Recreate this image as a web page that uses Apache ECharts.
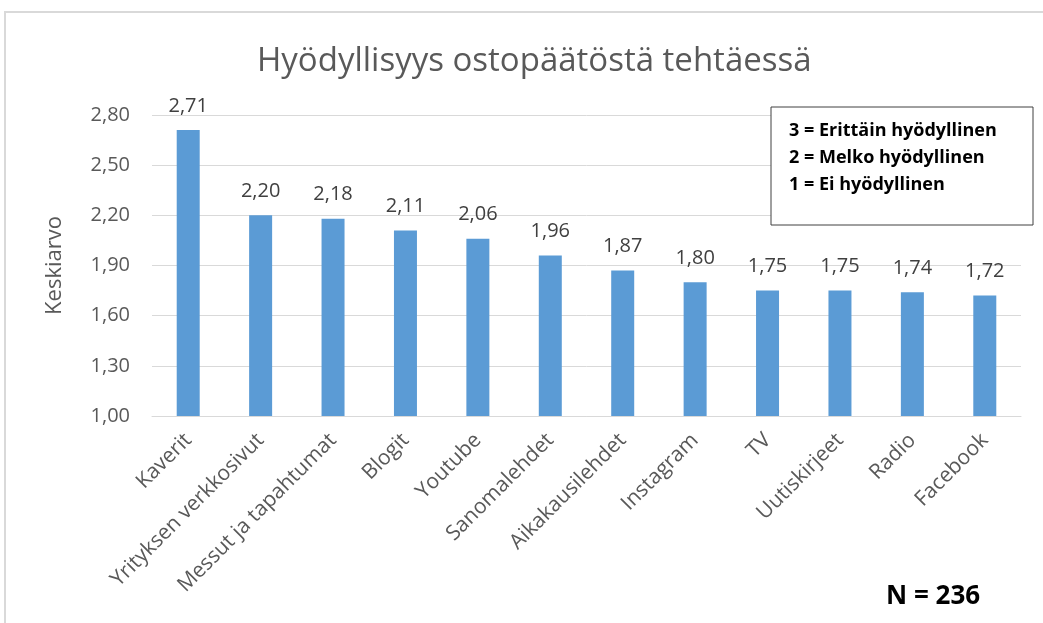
<!DOCTYPE html>
<html><head><meta charset="utf-8">
<script src="https://cdn.jsdelivr.net/npm/echarts@6/dist/echarts.min.js"></script>
<style>html,body{margin:0;padding:0;background:#fff}#c{width:1043px;height:623px}</style>
</head><body><div id="c"></div>
<script>
const categories = ["Kaverit","Yrityksen verkkosivut","Messut ja tapahtumat","Blogit","Youtube","Sanomalehdet","Aikakausilehdet","Instagram","TV","Uutiskirjeet","Radio","Facebook"];
const values = [2.71,2.20,2.18,2.11,2.06,1.96,1.87,1.80,1.75,1.75,1.74,1.72];
const legendLines = ["3 = Erittäin hyödyllinen","2 = Melko hyödyllinen","1 = Ei hyödyllinen"];
const titleText = "Hyödyllisyys ostopäätöstä tehtäessä";
const yName = "Keskiarvo";
const nText = "N = 236";
const fmt = v => v.toFixed(2).replace('.', ',');
const F = "'Open Sans', 'Noto Sans', sans-serif";
const chart = echarts.init(document.getElementById('c'));
chart.setOption({
  animation:false,
  backgroundColor:'#fff',
  title:{text:titleText,left:252,top:40,textStyle:{fontFamily:F,fontSize:33,fontWeight:'normal',color:'#595959'}},
  grid:{left:152,right:22,top:115,bottom:207,containLabel:false},
  xAxis:{type:'category',data:categories,
    axisLine:{lineStyle:{color:'#d9d9d9'}},axisTick:{show:false},
    axisLabel:{rotate:45,interval:0,fontFamily:F,fontSize:21,color:'#595959',margin:21}},
  yAxis:{type:'value',min:1,max:2.8,interval:0.3,name:yName,nameLocation:'middle',nameGap:86,
    nameTextStyle:{fontFamily:F,fontSize:22,color:'#595959'},
    axisLine:{show:false},axisTick:{show:false},
    splitLine:{lineStyle:{color:'#d9d9d9'}},
    axisLabel:{formatter:fmt,fontFamily:F,fontSize:20,color:'#595959',margin:22}},
  series:[{type:'bar',data:values,barWidth:23,itemStyle:{color:'#5b9bd5'},
    label:{show:true,position:'top',distance:14,formatter:p=>fmt(p.value),fontFamily:F,fontSize:20,color:'#404040'}}],
  graphic:[
    {type:'rect',shape:{x:5,y:12,width:1060,height:640},style:{fill:'none',stroke:'#d9d9d9',lineWidth:2},silent:true,z:-1},
    {type:'rect',shape:{x:771,y:107,width:262,height:118},style:{fill:'#fff',stroke:'#404040',lineWidth:1},z:10},
    {type:'text',left:789,top:117,z:11,style:{text:legendLines.join('\n'),fontFamily:"'Open Sans', sans-serif",fontSize:18,fontWeight:'bold',fill:'#000',lineHeight:27}},
    {type:'text',left:886,top:584,z:11,style:{text:nText,fontFamily:"'Open Sans', sans-serif",fontSize:26,fontWeight:'bold',fill:'#000'}}
  ]
});
</script></body></html>
